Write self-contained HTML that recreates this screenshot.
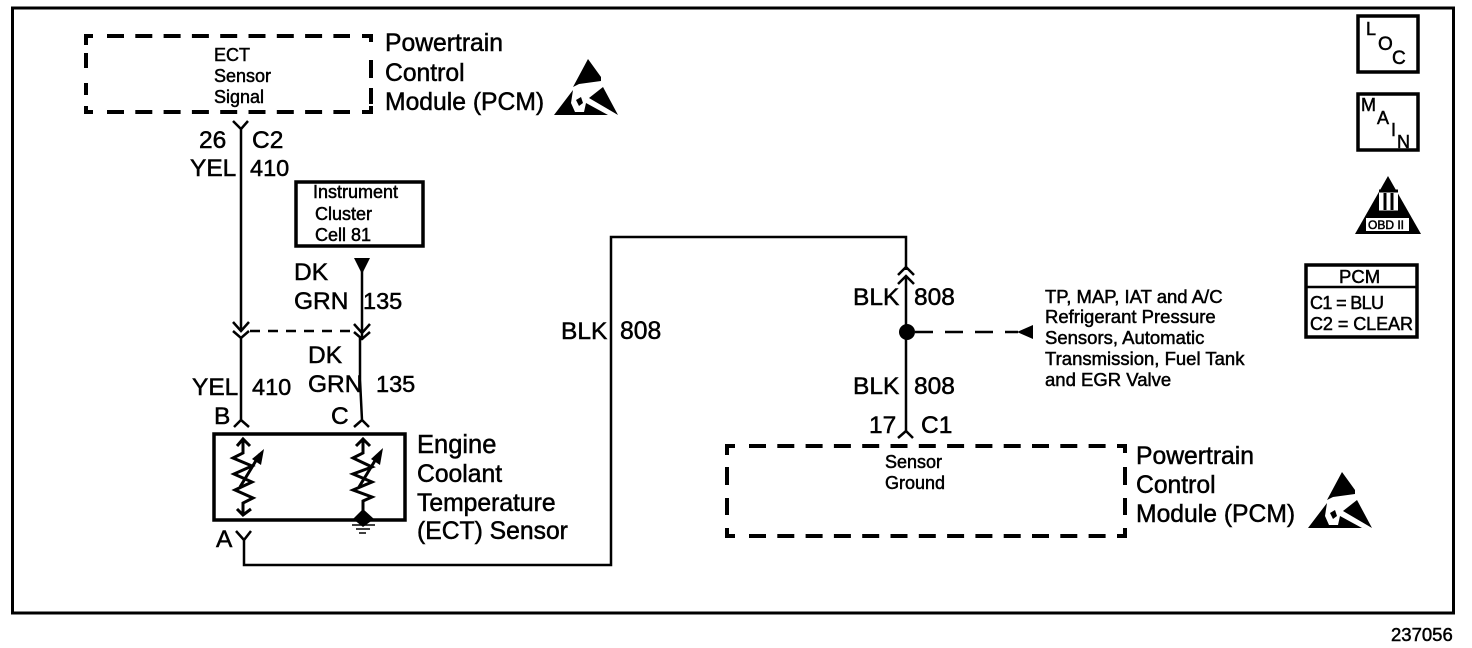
<!DOCTYPE html>
<html><head><meta charset="utf-8"><style>
html,body{margin:0;padding:0;background:#fff}
svg{display:block}
text{font-family:"Liberation Sans",sans-serif;fill:#000;stroke:#000;stroke-width:.5px}
.l{font-size:24.700px}.m{font-size:24.500px}.k{font-size:23.500px}.s{font-size:18px}.t{font-size:18px}.n{font-size:18.500px}
.w{fill:none;stroke:#000;stroke-width:2.5}
.d{fill:none;stroke:#000;stroke-width:4}
.h{stroke-dasharray:17 11.300}
.b{fill:#fff;stroke:#000;stroke-width:3.5}
.a{fill:none;stroke:#000;stroke-width:3}
</style></head><body>
<svg width="1472" height="648" viewBox="0 0 1472 648" xmlns="http://www.w3.org/2000/svg">
<rect x="12.500" y="8" width="1441" height="605" fill="none" stroke="#000" stroke-width="3"/>
<path class="d" d="M86 45V36H93M86 53V68M86 83V95M86 106V112H93M362 36H371V42M371 60V78M371 88V104M371 106V112H362"/>
<path class="d h" d="M107 36H350M107 112H350"/>
<text class="s" x="214" y="61">ECT</text><text class="s" x="214" y="82">Sensor</text><text class="s" x="214" y="103">Signal</text>
<text class="l" x="385" y="51">Powertrain</text><text class="l" x="385" y="81">Control</text><text class="l" x="385" y="110">Module (PCM)</text>
<g id="esd1" fill="#000"><path d="M588 59L601 77V81L579 84L573 87Z"/><path d="M573 90L554 115H608L586 103L584 112L575 112L571 103Z"/><path d="M589 98L603 87L618 115Z"/><path d="M576 100L581 97L583 103L579 106Z"/></g>
<use href="#esd1" x="754" y="413"/>
<path class="w" d="M241 128V330M233 121L241 129L248 121"/>
<text class="m" x="199" y="148">26</text><text class="m" x="252" y="148">C2</text>
<text class="m" x="190" y="176">YEL</text><text class="k" x="250" y="176">410</text>
<rect class="b" x="296" y="182" width="127" height="64"/>
<text class="t" x="313" y="198">Instrument</text><text class="t" x="315" y="220">Cluster</text><text class="t" x="315" y="241">Cell 81</text>
<path d="M354 258H370L362 274Z" fill="#000"/>
<path class="w" d="M362 262V340M354 324L362 333L370 324M354 332L362 339L370 332"/>
<text class="m" x="294" y="280">DK</text><text class="m" x="294" y="309">GRN</text><text class="k" x="363" y="309">135</text>
<path class="w" d="M233 322L241 331L249 322M233 331L241 338L249 331"/>
<path class="w" d="M250 331H355" stroke-dasharray="10 8"/>
<path class="w" d="M241 338V420M234 427L241 420L249 427M360 338V380L362 420M354 427L362 420L369 427"/>
<text class="m" x="192" y="395">YEL</text><text class="k" x="252" y="395">410</text>
<text class="m" x="308" y="363">DK</text><text class="m" x="308" y="392">GRN</text><text class="k" x="376" y="392">135</text>
<text class="m" x="214" y="424">B</text><text class="m" x="331" y="424">C</text>
<rect class="b" x="214" y="434" width="191" height="86"/>
<path class="a" d="M243 439V453L233 458L252 466L234 474L252 482L235 490L253 498L243 503V515M237 446L243 439L250 446M237 509L243 515L251 509"/>
<path class="a" d="M240 487L260 454"/>
<path d="M264 449L252 459L261 465Z" fill="#000"/>
<path class="a" d="M363 439V453L353 458L372 467L353 474L372 482L353 490L372 497L363 501V512M356 446L363 439L370 446"/>
<path class="a" d="M359 487L379 454"/>
<path d="M383 448L371 459L380 465Z" fill="#000"/>
<path d="M363 509L374 519L363 527L353 519Z" fill="#000"/>
<path d="M352 525H375M356 529H370M359 533H366" stroke="#000" stroke-width="1.500" fill="none"/>
<text class="l" x="417" y="453" style="font-size:25.500px">Engine</text><text class="l" x="417" y="482">Coolant</text><text class="l" x="417" y="511">Temperature</text><text class="l" x="417" y="539">(ECT) Sensor</text>
<text class="m" x="216" y="547">A</text>
<path class="w" d="M236 531L244 540L251 531M244 540V565H611V237H906V270"/>
<text class="m" x="561" y="339">BLK</text><text class="l" x="620" y="339">808</text>
<path class="w" d="M898 275L906 267L914 275M898 284L906 276L914 284M906 277V432M898 438L906 431L913 438"/>
<text class="m" x="853" y="305">BLK</text><text class="m" x="914" y="305">808</text>
<text class="m" x="853" y="394">BLK</text><text class="m" x="914" y="394">808</text>
<text class="m" x="869" y="433">17</text><text class="m" x="921" y="433">C1</text>
<circle cx="907" cy="332" r="8" fill="#000"/>
<path class="w" d="M915 332H1018" stroke-dasharray="18 12"/>
<path d="M1017 332L1033 325V339Z" fill="#000"/>
<text class="n" x="1045" y="303">TP, MAP, IAT and A/C</text><text class="n" x="1045" y="323">Refrigerant Pressure</text><text class="n" x="1045" y="344">Sensors, Automatic</text><text class="n" x="1045" y="365">Transmission, Fuel Tank</text><text class="n" x="1045" y="386">and EGR Valve</text>
<path class="d" d="M727 455V446H735M727 467V485M727 498V515M727 528V536H735M1125 453V446H1117M1125 467V485M1125 498V515M1125 528V536H1117"/>
<path class="d h" d="M749 446H1108M749 536H1108"/>
<text class="t" x="885" y="468">Sensor</text><text class="t" x="885" y="489">Ground</text>
<text class="l" x="1136" y="464">Powertrain</text><text class="l" x="1136" y="493">Control</text><text class="l" x="1136" y="522">Module (PCM)</text>
<rect class="b" x="1358" y="16" width="60" height="56"/>
<text class="s" x="1366" y="35">L</text><text x="1378" y="50" style="font-size:19px">O</text><text x="1392" y="64" style="font-size:19px">C</text>
<rect class="b" x="1358" y="94" width="60" height="56"/>
<text class="s" x="1361" y="111">M</text><text class="s" x="1377" y="124">A</text><text class="s" x="1391" y="136">I</text><text class="s" x="1397" y="148">N</text>
<path d="M1388 176L1421 234H1355Z" fill="#000"/>
<rect x="1379" y="190" width="19" height="23" fill="#fff"/>
<path d="M1379 191H1398M1379 212H1398M1385 193V210M1392 193V210" stroke="#000" stroke-width="3" fill="none"/>
<rect x="1366" y="218" width="43" height="13" fill="#fff"/>
<text x="1368" y="229" style="font-size:12px">OBD II</text>
<rect class="b" x="1306" y="265" width="111" height="72"/>
<path d="M1306 287H1417" stroke="#000" stroke-width="2.500"/>
<text x="1339" y="283" style="font-size:18.500px">PCM</text>
<text class="t" x="1310" y="309" textLength="74" lengthAdjust="spacing">C1 = BLU</text><text class="t" x="1310" y="330" textLength="103" lengthAdjust="spacing">C2 = CLEAR</text>
<text x="1391" y="641" style="font-size:18.500px">237056</text>
</svg>
</body></html>
